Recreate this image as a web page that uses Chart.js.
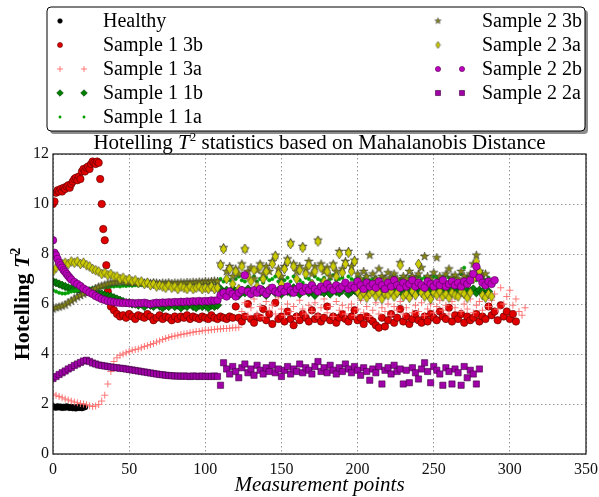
<!DOCTYPE html>
<html>
<head>
<meta charset="utf-8">
<script src="https://cdn.jsdelivr.net/npm/chart.js@4.4.0/dist/chart.umd.min.js"></script>
<style>
  html, body { margin: 0; padding: 0; background: #fff; }
</style>
</head>
<body>
<canvas id="chart" width="599" height="497"></canvas>
<script>
// measurement points run 0,1,2,... ; long stretches are sampled every 2nd point
const healthy = [1.9,1.88,1.86,1.9,1.87,1.89,1.85,1.88,1.86,1.9,1.87,1.85,1.88,1.84,1.86,1.83,1.87,1.85,1.86,1.84,1.87,1.88]; // x 0..21

const s1_3b_rise = [10.0,10.1,10.45,10.55,10.5,10.6,10.5,10.65,10.6,10.7,10.75,10.65,10.8,10.9,11.0,11.05,10.95,11.1,11.0,11.3,
  11.4,11.3,11.45,11.5,11.4,11.6,11.7,11.65,11.6,11.7,11.65,11.0,10.0,9.0,8.55,7.55,6.5,6.1,5.9]; // x 0..38
const s1_3b_mid = [5.75,5.6,5.5,5.55,5.45,5.6,5.5,5.4,5.55,5.5,5.45,5.6,5.5,5.35,5.45,5.55,5.4,5.5,5.45,5.35,
  5.5,5.4,5.5,5.45,5.55,5.4,5.5,5.45,5.4,5.5,5.45,5.4,5.55,5.45,5.4,5.5,5.45,5.4,5.5,5.45]; // x 40..118
const s1_3b_late = [5.9,5.45,5.3,5.5,6.0,5.4,5.25,5.5,5.45,5.8,5.35,5.6,5.2,6.05,5.4,5.5,5.3,5.7,5.4,5.15,
  5.5,5.35,5.6,5.45,5.3,5.75,5.4,5.5,5.3,5.45,5.9,5.35,5.5,5.25,5.45,5.6,5.4,5.3,5.5,5.75,
  5.35,5.45,5.2,5.5,5.4,5.3,5.15,5.05,5.45,5.1,5.35,5.6,5.25,5.45,5.8,5.3,5.5,5.2,5.4,5.6,
  5.35,5.25,5.5,5.3,5.6,5.45,5.35,5.7,5.5,5.4,5.85,5.3,5.55,5.4,5.6,5.25,5.5,5.35,5.45,5.6,
  5.3,5.5,5.4,5.9,5.55,5.7,5.35,5.95,5.5,5.7,5.4,5.6,5.3]; // x 120..304

const s1_3a_curve = [2.4,2.35,2.3,2.25,2.2,2.16,2.12,2.08,2.05,2.02,2.0,1.97,1.93,1.9,1.92,1.98,2.12,2.35,2.8,3.3,
  3.7,3.85,3.95,4.0,4.05,4.1,4.15,4.18,4.2,4.25,4.3,4.33,4.38,4.42,4.48,4.52,4.58,4.62,4.66,4.7,
  4.72,4.75,4.78,4.8,4.82,4.85,4.87,4.9,4.9,4.93,4.95,4.95,4.97,4.98,5.0,5.0,5.02,5.02,5.03,5.05,
  5.05,5.07]; // x 0..122
const s1_3a_late = [5.7,6.05,5.55,5.85,6.2,5.6,5.9,5.5,6.1,5.75,5.95,5.6,6.25,5.8,5.55,6.0,5.7,5.9,5.5,6.15,
  5.8,5.6,5.95,5.7,6.05,5.55,5.85,6.2,5.65,5.9,5.5,6.1,5.75,5.95,5.6,5.85,6.0,5.55,5.8,6.15,
  5.65,5.9,5.5,5.75,6.05,5.6,5.85,5.7,6.0,5.55,5.9,5.75,6.1,5.6,5.85,6.2,5.65,5.95,5.7,6.05,
  5.55,5.8,6.0,5.65,5.9,6.15,5.75,5.95,5.6,6.1,5.85,6.3,5.7,6.0,5.8,6.2,5.65,5.95,6.1,5.75,
  6.3,5.9,6.15,6.4,5.8,6.65,6.0,6.3,6.55,5.95,6.2,5.7,5.55,5.85]; // x 124..310

const s1_1b_early = [6.9,6.85,6.8,6.75,6.7,6.65,6.62,6.6,6.58,6.55,6.55,6.5,6.5,6.48,6.45,6.42,6.4,6.35,6.32,6.3,
  6.25,6.2,6.15,6.1,6.05,6.05,6.0,6.0,5.95,6.0,5.9,6.0,5.95,5.9,6.0,5.92,5.85,5.95,5.9,6.0,
  5.9,5.95,5.85,5.95,5.9,6.0,5.9,5.85,5.95,5.9,5.95,5.85,5.95,5.9,5.95]; // x 0..108
const s1_1b_late = [6.6,6.45,6.55,6.4,6.6,6.5,6.35,6.55,6.45,6.6,6.4,6.5,6.65,6.45,6.55,6.35,6.5,6.6,6.45,6.55,
  6.4,6.6,6.5,6.45,6.65,6.5,6.4,6.55,6.6,6.45,6.5,6.35,6.6,6.5,6.45,6.55,6.4,6.6,6.5,6.45,
  6.55,6.65,6.4,6.5,6.55,6.45,6.6,6.5,6.4,6.55,6.6,6.45,6.5,6.65,6.4,6.55,6.5,6.6,6.45,6.55,
  6.4,6.6,6.5,6.45,6.65,6.5,6.55,6.4,6.6,6.5,6.45,6.6,6.55,6.4,6.5,6.65,6.45,6.55,6.5,6.6,
  6.4,6.55,6.5,6.6,6.45,6.55,6.5,6.4,6.5]; // x 110..286

const s1_1a_early = [6.55,6.5,6.45,6.42,6.42,6.45,6.5,6.52,6.55,6.58,6.6,6.6,6.62,6.63,6.65,6.66,6.67,6.68,6.68,6.7,
  6.7,6.72,6.7,6.73,6.72,6.74,6.73,6.75,6.74,6.76,6.75,6.77,6.76,6.78,6.77,6.79,6.78,6.8,6.79,6.81,
  6.8,6.82,6.81,6.83,6.82,6.84,6.83,6.85,6.84,6.86,6.85,6.87,6.88,6.9,6.9]; // x 0..108
const s1_1a_late = [7.0,6.9,7.05,6.95,6.85,7.0,7.1,6.95,6.9,7.05,6.95,7.1,6.9,7.0,6.85,7.05,6.95,7.0,7.1,6.9,
  7.0,6.95,7.05,6.9,7.1,7.0,6.95,6.85,7.05,7.0,6.9,7.1,7.0,6.95,7.05,6.9,7.0,7.15,6.95,7.0,
  7.05,6.9,7.1,7.0,6.95,7.05,6.9,7.0,7.1,6.95,7.0,7.05,6.9,7.1,7.0,6.95,7.05,7.15,6.95,7.0,
  7.1,6.9,7.05,7.0,6.95,7.1,7.0,7.05,6.9,7.0,7.1,7.05,6.95,7.0,7.15,7.05,6.95,7.1,7.0,7.2,
  7.45,7.1,7.0,7.05,6.95,7.1,7.0,6.95,7.05]; // x 110..286

const s2_3b_early = [5.8,5.85,5.88,5.92,5.96,6.05,6.12,6.2,6.28,6.34,6.4,6.46,6.5,6.56,6.62,6.68,6.72,6.76,6.8,6.84,
  6.86,6.88,6.88,6.9,6.88,6.86,6.88,6.85,6.87,6.85,6.84,6.86,6.83,6.85,6.84,6.82,6.84,6.83,6.85,6.82,
  6.84,6.83,6.85,6.84,6.86,6.85,6.87,6.86,6.88,6.87,6.9,6.88,6.9,6.92,6.9]; // x 0..108
const s2_3b_late = [7.6,8.25,7.3,7.5,7.1,7.4,7.2,7.6,8.2,7.3,7.45,7.0,7.35,7.6,7.2,7.5,7.3,7.7,7.95,7.4,
  7.1,7.5,7.8,8.45,7.6,7.3,7.5,8.3,7.4,7.7,7.2,7.5,8.55,7.6,7.3,7.45,7.1,7.6,7.3,8.1,
  7.4,7.7,8.1,7.5,7.75,7.2,7.0,7.3,7.1,7.95,7.2,7.0,7.4,7.1,7.0,7.25,7.05,7.2,7.0,7.65,
  7.1,7.0,7.3,7.1,7.0,7.2,7.45,7.9,7.1,7.0,7.25,7.85,7.1,7.0,7.2,7.4,7.05,7.15,7.0,7.3,
  7.1,7.0,7.2,7.6,7.95,7.3,7.15,7.2]; // x 110..284

const s2_3a_early = [7.3,7.45,7.55,7.6,7.65,7.6,7.7,7.65,7.7,7.6,7.65,7.55,7.5,7.4,7.35,7.3,7.2,7.25,7.15,7.2,
  7.1,7.1,7.0,7.05,6.95,7.0,6.9,6.95,6.85,6.9,6.8,6.85,6.75,6.8,6.7,6.75,6.7,6.65,6.75,6.65,
  6.7,6.6,6.7,6.65,6.6,6.7,6.6,6.65,6.7,6.6,6.65,6.6,6.7,6.6,6.65]; // x 0..108
const s2_3a_late = [7.55,8.2,7.0,7.4,6.8,7.3,6.6,7.5,8.2,7.1,6.9,7.35,6.7,7.5,7.0,7.3,6.6,7.6,7.9,7.2,
  6.8,7.4,7.7,8.4,7.5,7.0,7.35,8.25,7.2,7.55,6.8,7.3,8.5,7.45,6.9,7.3,6.7,7.5,7.1,8.0,
  7.25,7.6,8.05,7.3,7.7,6.5,6.3,6.45,6.25,6.4,6.5,6.3,6.45,6.2,6.4,6.35,6.5,6.3,6.45,7.55,
  6.3,6.4,6.25,6.5,6.35,7.6,6.45,6.3,6.4,6.2,6.45,6.35,6.5,6.3,6.4,6.25,6.45,6.35,6.3,6.5,
  6.4,6.25,6.45,7.0,7.7,7.3,6.35,6.25,6.4,6.3]; // x 110..288

const s2_2b_start = [8.55,8.05,7.95,7.8,7.65,7.55,7.45,7.35,7.28,7.2,7.12,7.05]; // x 0..11
const s2_2b_early = [6.98,6.88,6.8,6.72,6.62,6.55,6.46,6.4,6.32,6.26,6.2,6.16,6.12,6.1,6.08,6.06,6.05,6.04,6.05,6.03,
  6.04,6.02,6.04,6.03,6.05,6.02,6.0,6.03,6.05,6.04,6.06,6.05,6.07,6.06,6.08,6.07,6.09,6.08,6.1,6.09,
  6.11,6.1,6.12,6.1,6.12,6.11,6.14,6.13,6.15]; // x 12..108
const s2_2b_late = [6.35,6.45,6.3,6.5,6.4,6.3,6.45,6.55,7.15,6.5,6.4,6.55,6.45,6.6,6.5,6.4,6.55,6.65,6.5,6.45,
  6.6,6.5,6.7,6.55,6.45,6.6,6.7,6.5,6.65,6.55,6.75,6.6,6.5,6.7,6.6,6.8,6.65,6.55,6.75,6.6,
  6.7,6.85,6.6,6.75,6.65,6.9,6.75,6.6,6.85,6.7,6.8,6.65,6.9,6.75,6.6,6.85,6.7,6.95,6.75,6.65,
  6.85,6.7,6.8,6.95,6.7,6.85,6.75,6.65,6.9,6.8,6.7,6.85,6.75,6.95,6.7,6.8,6.9,6.75,6.85,6.7,
  6.9,6.8,6.95,7.2,7.5,7.05,6.85,6.75,6.9,6.8,6.95]; // x 110..290

const s2_2a_early = [3.02,3.1,3.18,3.25,3.32,3.4,3.46,3.54,3.6,3.66,3.72,3.75,3.7,3.64,3.6,3.56,3.54,3.52,3.5,3.48,
  3.46,3.45,3.43,3.42,3.4,3.38,3.36,3.34,3.32,3.3,3.28,3.26,3.24,3.22,3.2,3.18,3.17,3.15,3.14,3.13,
  3.12,3.12,3.11,3.12,3.11,3.1,3.12,3.11,3.1,3.12,3.1,3.11,3.1,3.12,3.1]; // x 0..108
const s2_2a_late = [2.75,3.65,3.4,3.2,3.5,3.3,3.05,3.45,3.6,3.25,3.4,3.15,3.55,3.35,3.2,3.45,3.3,3.55,3.25,3.4,
  3.1,3.35,3.5,3.2,3.4,3.3,3.6,3.25,3.45,3.35,3.2,3.5,3.7,3.3,3.45,3.25,3.55,3.35,3.2,3.45,
  3.3,3.6,3.4,3.25,3.5,3.35,3.15,3.45,3.3,2.95,3.4,3.25,3.5,2.8,3.35,3.45,3.2,3.55,3.3,3.4,
  2.8,3.35,2.85,3.45,3.25,3.0,3.4,3.65,3.3,2.85,3.5,3.35,3.2,2.75,3.45,3.3,2.8,3.4,3.25,2.75,
  3.5,3.05,3.35,3.2,2.8,3.4]; // x 110..280

const xTicks = [0, 50, 100, 150, 200, 250, 300, 350];
const yTicks = [0, 2, 4, 6, 8, 10, 12];

const SERIF = '"Liberation Serif", "DejaVu Serif", serif';

function seg(x0, step, ys) {
  return ys.map((y, i) => ({ x: x0 + i * step, y: y }));
}

function markerCanvas(w, h, draw) {
  const c = document.createElement('canvas');
  c.width = w; c.height = h;
  draw(c.getContext('2d'), w / 2, h / 2);
  return c;
}
function starMarker(R, fill) {
  const s = Math.ceil(2 * R + 2);
  return markerCanvas(s, s, (g, cx, cy) => {
    g.beginPath();
    for (let k = 0; k < 10; k++) {
      const r = k % 2 ? R * 0.382 : R;
      const a = -Math.PI / 2 + k * Math.PI / 5;
      g.lineTo(cx + r * Math.cos(a), cy + r * Math.sin(a));
    }
    g.closePath();
    g.fillStyle = fill; g.fill();
    g.lineWidth = 0.6; g.strokeStyle = '#333'; g.stroke();
  });
}
function thinDiamond(w, h, fill) {
  return markerCanvas(Math.ceil(w + 2), Math.ceil(h + 2), (g, cx, cy) => {
    g.beginPath();
    g.moveTo(cx, cy - h / 2); g.lineTo(cx + w / 2, cy);
    g.lineTo(cx, cy + h / 2); g.lineTo(cx - w / 2, cy);
    g.closePath();
    g.fillStyle = fill; g.fill();
    g.lineWidth = 0.6; g.strokeStyle = '#333'; g.stroke();
  });
}

const starBig = starMarker(4.5, '#8a8a10');
const starSmall = starMarker(3.2, '#8a8a10');
const thinBig = thinDiamond(6.5, 10, '#cccc00');
const thinSmall = thinDiamond(4.5, 7, '#cccc00');

const series = [
  { label: 'Healthy', data: seg(0, 1, healthy),
    style: 'circle', r: 3, fill: '#000', edge: '#000', lr: 2.3, n: 1 },
  { label: 'Sample 1 3b', data: seg(0, 1, s1_3b_rise).concat(seg(40, 2, s1_3b_mid), seg(120, 2, s1_3b_late)),
    style: 'circle', r: 3.7, fill: '#e00000', edge: '#550000', lr: 2.5, n: 1 },
  { label: 'Sample 1 3a', data: seg(0, 2, s1_3a_curve).concat(seg(124, 2, s1_3a_late)),
    style: 'cross', r: 3.5, fill: '#ff6b6b', edge: '#ff6b6b', lr: 3, n: 2, bw: 0.9 },
  { label: 'Sample 1 1b', data: seg(0, 2, s1_1b_early).concat(seg(110, 2, s1_1b_late)),
    style: 'rectRot', r: 4.2, fill: '#008000', edge: '#003300', lr: 3.3, n: 2 },
  { label: 'Sample 1 1a', data: seg(0, 2, s1_1a_early).concat(seg(110, 2, s1_1a_late)),
    style: 'circle', r: 1.7, fill: '#00a000', edge: '#00a000', lr: 1.2, n: 2 },
  { label: 'Sample 2 3b', data: seg(0, 2, s2_3b_early).concat(seg(110, 2, s2_3b_late)),
    style: starBig, legendStyle: starSmall, n: 1 },
  { label: 'Sample 2 3a', data: seg(0, 2, s2_3a_early).concat(seg(110, 2, s2_3a_late)),
    style: thinBig, legendStyle: thinSmall, n: 1 },
  { label: 'Sample 2 2b', data: seg(0, 1, s2_2b_start).concat(seg(12, 2, s2_2b_early), seg(110, 2, s2_2b_late)),
    style: 'circle', r: 3.8, fill: '#c000c0', edge: '#500050', lr: 2.6, n: 2 },
  { label: 'Sample 2 2a', data: seg(0, 2, s2_2a_early).concat(seg(110, 2, s2_2a_late)),
    style: 'rect', r: 4.4, fill: '#a000a8', edge: '#400040', lr: 3.6, n: 2 }
];

const datasets = series.map((s, i) => ({
  label: s.label,
  data: s.data,
  showLine: false,
  order: series.length - i,
  pointStyle: s.style,
  pointRadius: typeof s.style === 'string' ? s.r : 5,
  pointHoverRadius: typeof s.style === 'string' ? s.r : 5,
  backgroundColor: s.fill || '#000',
  borderColor: s.edge || '#000',
  pointBorderWidth: s.bw || 0.6
}));

function richText(ctx, parts, x, y, align) {
  // parts: [text, font, dy]
  let total = 0;
  parts.forEach(p => { ctx.font = p[1]; total += ctx.measureText(p[0]).width; });
  let cx = align === 'center' ? x - total / 2 : x;
  parts.forEach(p => {
    ctx.font = p[1];
    ctx.fillText(p[0], cx, y + (p[2] || 0));
    cx += ctx.measureText(p[0]).width;
  });
}

const decor = {
  id: 'decor',
  afterDraw(chart) {
    const ctx = chart.ctx;
    const a = chart.chartArea;
    ctx.save();

    // axes frame
    ctx.strokeStyle = '#111';
    ctx.lineWidth = 1.2;
    ctx.strokeRect(a.left, a.top, a.right - a.left, a.bottom - a.top);

    ctx.fillStyle = '#000';
    ctx.textBaseline = 'alphabetic';
    ctx.textAlign = 'left';

    // title
    const cx = (a.left + a.right) / 2;
    richText(ctx, [
      ['Hotelling ', '21px ' + SERIF],
      ['T', 'italic 21px ' + SERIF],
      ['2', '13px ' + SERIF, -8],
      [' statistics based on Mahalanobis Distance', '21px ' + SERIF]
    ], cx, 149, 'center');

    // x axis title
    richText(ctx, [['Measurement points', 'italic 21px ' + SERIF]], cx, 491, 'center');

    // y axis title
    ctx.save();
    ctx.translate(29, (a.top + a.bottom) / 2);
    ctx.rotate(-Math.PI / 2);
    richText(ctx, [
      ['Hotelling ', 'bold 22px ' + SERIF],
      ['T', 'bold italic 22px ' + SERIF],
      ['2', 'bold 14px ' + SERIF, -9]
    ], 0, 0, 'center');
    ctx.restore();

    // legend box
    const bx = 47, by = 7, bw = 538, bh = 124;
    ctx.fillStyle = 'rgba(0,0,0,0.45)';
    ctx.beginPath(); ctx.roundRect(bx + 3, by + 3, bw, bh, 4); ctx.fill();
    ctx.fillStyle = '#fff';
    ctx.strokeStyle = '#000';
    ctx.lineWidth = 1;
    ctx.beginPath(); ctx.roundRect(bx, by, bw, bh, 4); ctx.fill(); ctx.stroke();

    const rows = [21, 45, 69, 93, 117];
    series.forEach((s, i) => {
      const col = i < 5 ? 0 : 1;
      const y = rows[col ? i - 5 : i];
      const mx = col ? [438, 462] : [60, 84];
      const tx = col ? 482 : 103;
      for (let k = 0; k < s.n; k++) {
        ctx.fillStyle = s.fill || '#000';
        ctx.strokeStyle = s.edge || '#000';
        ctx.lineWidth = s.bw || 0.6;
        Chart.helpers.drawPoint(ctx, {
          pointStyle: s.legendStyle || s.style,
          radius: s.lr || 3,
          rotation: 0,
          borderWidth: s.bw || 0.6
        }, mx[k], y);
      }
      ctx.fillStyle = '#000';
      ctx.textBaseline = 'middle';
      ctx.font = '20px ' + SERIF;
      ctx.fillText(s.label, tx, y + 1);
    });

    ctx.restore();
  }
};

const tickFont = { family: SERIF, size: 16 };
const gridOpts = { color: 'rgba(0,0,0,0.4)', lineWidth: 1, drawTicks: false };

new Chart(document.getElementById('chart'), {
  type: 'scatter',
  data: { datasets: datasets },
  options: {
    responsive: false,
    animation: false,
    devicePixelRatio: 1,
    layout: { padding: { left: 0, right: 13, top: 154, bottom: 0 } },
    plugins: { legend: { display: false }, tooltip: { enabled: false }, title: { display: false } },
    scales: {
      x: {
        type: 'linear', min: 0, max: 350,
        afterBuildTicks: sc => { sc.ticks = xTicks.map(v => ({ value: v })); },
        ticks: { font: tickFont, color: '#111', padding: 6, maxRotation: 0 },
        grid: gridOpts,
        border: { display: false, dash: [1.5, 2.5] },
        afterFit: sc => { sc.height = 43; sc.paddingLeft = 0; sc.paddingRight = 0; }
      },
      y: {
        type: 'linear', min: 0, max: 12,
        afterBuildTicks: sc => { sc.ticks = yTicks.map(v => ({ value: v })); },
        ticks: { font: tickFont, color: '#111', padding: 4 },
        grid: gridOpts,
        border: { display: false, dash: [1.5, 2.5] },
        afterFit: sc => { sc.width = 53; sc.paddingTop = 0; sc.paddingBottom = 0; }
      }
    }
  },
  plugins: [decor]
});
</script>
</body>
</html>
